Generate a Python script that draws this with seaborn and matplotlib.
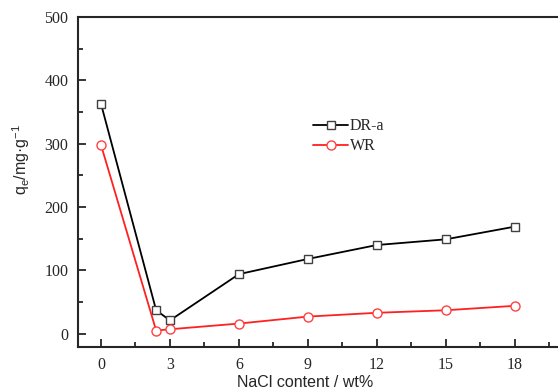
import matplotlib
matplotlib.use("Agg")
import matplotlib.pyplot as plt
import seaborn as sns
import pandas as pd
from matplotlib.ticker import MultipleLocator

nacl = [0, 2.4, 3, 6, 9, 12, 15, 18]
dr_a = [363, 37, 21, 94, 118, 140, 149, 169]
wr = [298, 5, 7, 16, 27, 33, 37, 44]
xticks = [0, 3, 6, 9, 12, 15, 18]
yticks = [0, 100, 200, 300, 400, 500]

sns.set_style("ticks")
plt.rcParams['font.family'] = ['Liberation Serif', 'DejaVu Serif']
plt.rcParams['mathtext.fontset'] = 'custom'
plt.rcParams['mathtext.rm'] = 'Liberation Sans'

fig = plt.figure(figsize=(5.58, 3.90), dpi=100)
ax = fig.add_axes([78/558, 43/390, 482.7/558, 330/390])

df1 = pd.DataFrame({'x': nacl, 'y': dr_a})
df2 = pd.DataFrame({'x': nacl, 'y': wr})
sns.lineplot(data=df1, x='x', y='y', ax=ax, color='black', lw=1.3, sort=False,
             marker='s', markersize=5.5, markerfacecolor='white',
             markeredgecolor='#404040', markeredgewidth=1.0, label='DR-a')
sns.lineplot(data=df2, x='x', y='y', ax=ax, color='#ff2020', lw=1.3, sort=False,
             marker='o', markersize=6.5, markerfacecolor='white',
             markeredgecolor='#ff4040', markeredgewidth=1.0, label='WR')

ax.set_xlim(-1, 20)
ax.set_ylim(-21, 500)
ax.set_xticks(xticks)
ax.set_yticks(yticks)
ax.xaxis.set_minor_locator(MultipleLocator(1.5))
ax.yaxis.set_minor_locator(MultipleLocator(50))
ax.tick_params(which='major', direction='in', length=6, width=1.3, labelsize=11.5, pad=7)
ax.tick_params(which='minor', direction='in', length=3.5, width=1.3)
for s in ax.spines.values():
    s.set_linewidth(1.5)

ax.set_xlabel('NaCl content / wt%', fontfamily='Liberation Sans', fontsize=11.5)
ax.set_ylabel(r'q$_\mathregular{e}$/mg·g$^\mathregular{-1}$', fontfamily='Liberation Sans',
              fontsize=11.5)
ax.xaxis.set_label_coords(0.47, -0.085)
ax.yaxis.set_label_coords(-0.095, 0.567)

leg = ax.legend(loc='upper left', bbox_to_anchor=(0.474, 0.713), frameon=False,
                fontsize=11.5, handlelength=2.2, handletextpad=0.1, labelspacing=0.25,
                borderaxespad=0)

fig.savefig('out.png', dpi=100)
